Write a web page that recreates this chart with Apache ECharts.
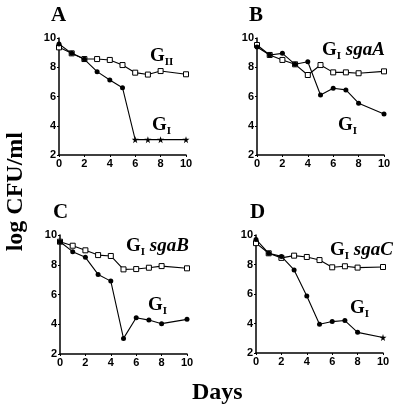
<!DOCTYPE html>
<html><head><meta charset="utf-8">
<script src="https://cdn.jsdelivr.net/npm/echarts@6/dist/echarts.min.js"></script>
<style>html,body{margin:0;padding:0;background:#fff}#c{width:400px;height:413px}</style>
</head><body><div id="c"></div>
<script>
const days = [0, 1, 2, 3, 4, 5, 6, 7, 8, 10];
const xTicks = [0, 2, 4, 6, 8, 10];
const yTicks = [2, 4, 6, 8, 10];
const aGI   = [9.59, 8.95, 8.54, 7.70, 7.13, 6.60, 3.05, 3.05, 3.05, 3.05];
const aGII  = [9.36, 8.95, 8.56, 8.56, 8.50, 8.15, 7.63, 7.50, 7.74, 7.52];
const bGI   = [9.38, 8.84, 8.95, 8.20, 8.38, 6.10, 6.56, 6.45, 5.54, 4.80];
const bSgaA = [9.52, 8.84, 8.50, 8.20, 7.47, 8.15, 7.65, 7.65, 7.59, 7.72];
const cGI   = [9.55, 8.88, 8.50, 7.35, 6.90, 3.05, 4.44, 4.28, 4.04, 4.33];
const cSgaB = [9.55, 9.28, 8.97, 8.65, 8.59, 7.69, 7.71, 7.80, 7.91, 7.76];
const dGI   = [9.70, 8.76, 8.55, 7.63, 5.87, 3.95, 4.13, 4.20, 3.40, 3.05];
const dSgaC = [9.45, 8.76, 8.45, 8.60, 8.51, 8.30, 7.81, 7.88, 7.79, 7.83];
const starDaysA = [6, 7, 8, 10];
const starDaysD = [10];
const panelLetters = ['A', 'B', 'C', 'D'];

const STAR = 'path://M50,0 L61,35 L98,35 L68,57 L79,91 L50,70 L21,91 L32,57 L2,35 L39,35 Z';
const serif = 'Liberation Serif';
const sans = 'Liberation Sans';

const grids = [
  {left: 59, top: 38, width: 127, height: 117},
  {left: 257, top: 38, width: 127, height: 117},
  {left: 60, top: 235, width: 127, height: 119},
  {left: 256, top: 235, width: 127, height: 118}
];

function xAxis(i) {
  return {
    type: 'value', gridIndex: i, min: 0, max: 10, interval: 2,
    axisLine: {show: true, onZero: false, lineStyle: {color: '#000', width: 1.5}},
    axisTick: {show: true, length: 2, lineStyle: {color: '#000'}},
    splitLine: {show: false},
    axisLabel: {color: '#000', fontFamily: sans, fontWeight: 'bold', fontSize: 11, margin: 3}
  };
}
function yAxis(i) {
  return {
    type: 'value', gridIndex: i, min: 2, max: 10, interval: 2,
    axisLine: {show: true, onZero: false, lineStyle: {color: '#000', width: 1.5}},
    axisTick: {show: true, length: 2, lineStyle: {color: '#000'}},
    splitLine: {show: false},
    axisLabel: {color: '#000', fontFamily: sans, fontWeight: 'bold', fontSize: 11, margin: 3}
  };
}

function filledSeries(i, vals, stars) {
  return {
    type: 'line', xAxisIndex: i, yAxisIndex: i, animation: false,
    lineStyle: {color: '#000', width: 1.1},
    itemStyle: {color: '#000', borderColor: '#000', borderWidth: 0},
    data: days.map((d, k) => {
      const isStar = stars.indexOf(d) >= 0;
      return {value: [d, vals[k]], symbol: isStar ? STAR : 'circle', symbolSize: isStar ? 7 : 5};
    }),
    z: 3
  };
}
function openSeries(i, vals) {
  return {
    type: 'line', xAxisIndex: i, yAxisIndex: i, animation: false,
    symbol: 'rect', symbolSize: 5,
    lineStyle: {color: '#000', width: 1.1},
    itemStyle: {color: '#fff', borderColor: '#000', borderWidth: 1},
    data: days.map((d, k) => [d, vals[k]]),
    z: 2
  };
}

const rich = {
  g: {fontFamily: serif, fontWeight: 'bold', fontSize: 19, lineHeight: 19, verticalAlign: 'top', fill: '#000', color: '#000'},
  s: {fontFamily: serif, fontWeight: 'bold', fontSize: 11, lineHeight: 11, verticalAlign: 'top', padding: [10, 0, 0, 0], fill: '#000', color: '#000'},
  it: {fontFamily: serif, fontWeight: 'bold', fontStyle: 'italic', fontSize: 19, lineHeight: 19, verticalAlign: 'top', fill: '#000', color: '#000'}
};
function lab(x, y, text) {
  return {type: 'text', left: x, top: y, silent: true, style: {text: text, rich: rich, fill: '#000'}};
}
const letterPos = [[51, 5], [249, 5], [53, 202], [250, 202]];

const graphics = [];
letterPos.forEach((p, i) => graphics.push({
  type: 'text', left: p[0], top: p[1],
  style: {text: panelLetters[i], font: 'bold 21px "Liberation Serif"', fill: '#000'}
}));
graphics.push(lab(150, 47, '{g|G}{s|II}'));
graphics.push(lab(152, 116, '{g|G}{s|I}'));
graphics.push(lab(322, 41, '{g|G}{s|I}{it| sgaA}'));
graphics.push(lab(338, 116, '{g|G}{s|I}'));
graphics.push(lab(126, 237, '{g|G}{s|I}{it| sgaB}'));
graphics.push(lab(148, 296, '{g|G}{s|I}'));
graphics.push(lab(330, 241, '{g|G}{s|I}{it| sgaC}'));
graphics.push(lab(350, 299, '{g|G}{s|I}'));
graphics.push({
  type: 'text', left: 4, top: 132, rotation: Math.PI / 2,
  style: {text: 'log CFU/ml', font: 'bold 24px "Liberation Serif"', fill: '#000'}
});
graphics.push({
  type: 'text', left: 192, top: 381,
  style: {text: 'Days', font: 'bold 24px "Liberation Serif"', fill: '#000'}
});

const chart = echarts.init(document.getElementById('c'), null, {renderer: 'canvas'});
chart.setOption({
  animation: false,
  backgroundColor: '#fff',
  grid: grids,
  xAxis: [0, 1, 2, 3].map(xAxis),
  yAxis: [0, 1, 2, 3].map(yAxis),
  series: [
    openSeries(0, aGII), filledSeries(0, aGI, starDaysA),
    openSeries(1, bSgaA), filledSeries(1, bGI, []),
    openSeries(2, cSgaB), filledSeries(2, cGI, []),
    openSeries(3, dSgaC), filledSeries(3, dGI, starDaysD)
  ],
  graphic: graphics
});
</script>
</body></html>
